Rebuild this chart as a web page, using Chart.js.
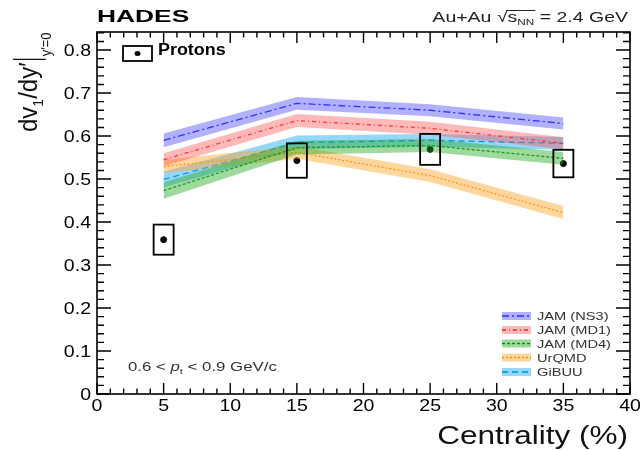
<!DOCTYPE html>
<html>
<head>
<meta charset="utf-8">
<script src="https://cdn.jsdelivr.net/npm/chart.js@4.4.1/dist/chart.umd.min.js"></script>
<style>
html, body { margin: 0; padding: 0; background: #fff; }
#wrap { width: 643px; height: 450px; }
</style>
</head>
<body>
<div id="wrap"><canvas id="chart" width="643" height="450"></canvas></div>
<script>
// data
const centrality = [5, 15, 25, 35]
const protonV = [0.359, 0.543, 0.569, 0.536]
const protonSys = [0.035, 0.040, 0.036, 0.032]

const modelNames = ['JAM (NS3)', 'JAM (MD1)', 'JAM (MD4)', 'UrQMD', 'GiBUU']
const jamNS3 = [0.590, 0.676, 0.660, 0.629]
const jamNS3Err = [0.016, 0.015, 0.014, 0.014]
const jamMD1 = [0.545, 0.636, 0.618, 0.583]
const jamMD1Err = [0.015, 0.015, 0.015, 0.014]
const jamMD4 = [0.473, 0.573, 0.578, 0.548]
const jamMD4Err = [0.019, 0.016, 0.015, 0.015]
const urqmd = [0.529, 0.562, 0.508, 0.422]
const urqmdErr = [0.015, 0.015, 0.015, 0.015]
const gibuu = [0.499, 0.585, 0.590, 0.583]
const gibuuErr = [0.018, 0.016, 0.015, 0.015]

const xTickLabels = ['0', '5', '10', '15', '20', '25', '30', '35', '40']
const yTickLabels = ['0', '0.1', '0.2', '0.3', '0.4', '0.5', '0.6', '0.7', '0.8']

const models = [
  { name: modelNames[0], v: jamNS3, e: jamNS3Err, line: '#2b2bff', band: 'rgba(60,60,255,0.40)', dash: [7, 3, 2, 3] },
  { name: modelNames[1], v: jamMD1, e: jamMD1Err, line: '#ff2020', band: 'rgba(255,80,80,0.40)', dash: [4, 3, 1, 3] },
  { name: modelNames[2], v: jamMD4, e: jamMD4Err, line: '#108a10', band: 'rgba(40,170,40,0.45)', dash: [3, 2] },
  { name: modelNames[3], v: urqmd, e: urqmdErr, line: '#ff8c00', band: 'rgba(255,165,40,0.45)', dash: [2, 2] },
  { name: modelNames[4], v: gibuu, e: gibuuErr, line: '#0090e0', band: 'rgba(0,160,240,0.42)', dash: [6, 4] }
]

const boxHalfX = 0.75
const FONT = '"Liberation Sans", Arial, Helvetica, sans-serif'

const datasets = []
models.forEach(m => {
  datasets.push({
    data: centrality.map((c, i) => ({ x: c, y: m.v[i] - m.e[i] })),
    borderWidth: 0, pointRadius: 0, fill: false
  })
  datasets.push({
    data: centrality.map((c, i) => ({ x: c, y: m.v[i] + m.e[i] })),
    borderWidth: 0, pointRadius: 0, fill: '-1', backgroundColor: m.band
  })
  datasets.push({
    data: centrality.map((c, i) => ({ x: c, y: m.v[i] })),
    borderColor: m.line, borderWidth: 1.3, borderDash: m.dash, pointRadius: 0, fill: false
  })
})
datasets.push({
  type: 'scatter',
  data: centrality.map((c, i) => ({ x: c, y: protonV[i] })),
  pointRadius: 3, pointBackgroundColor: '#000', pointBorderColor: '#000', showLine: false
})

// draw text with a horizontal stretch
function txt(ctx, s, x, y, font, sx, align, color) {
  ctx.save()
  ctx.translate(x, y)
  ctx.scale(sx, 1)
  ctx.font = font
  ctx.fillStyle = color || '#000'
  ctx.textAlign = align || 'left'
  ctx.textBaseline = 'alphabetic'
  ctx.fillText(s, 0, 0)
  ctx.restore()
}

// runs of [text, font, dy]; returns widths
function runWidth(ctx, parts) {
  let w = 0
  parts.forEach(p => { ctx.font = p[1]; w += ctx.measureText(p[0]).width })
  return w
}

const decor = {
  id: 'decor',
  afterDatasetsDraw(chart) {
    const ctx = chart.ctx
    const xs = chart.scales.x, ys = chart.scales.y
    // systematic boxes
    ctx.save()
    ctx.strokeStyle = '#000'
    ctx.lineWidth = 1.8
    centrality.forEach((c, i) => {
      const x0 = xs.getPixelForValue(c - boxHalfX)
      const x1 = xs.getPixelForValue(c + boxHalfX)
      const y0 = ys.getPixelForValue(protonV[i] + protonSys[i])
      const y1 = ys.getPixelForValue(protonV[i] - protonSys[i])
      ctx.strokeRect(x0, y0, x1 - x0, y1 - y0)
    })
    ctx.restore()
  },
  afterDraw(chart) {
    const ctx = chart.ctx
    const a = chart.chartArea
    const xs = chart.scales.x, ys = chart.scales.y
    ctx.save()
    ctx.strokeStyle = '#000'
    ctx.lineWidth = 1.6
    ctx.strokeRect(a.left, a.top, a.right - a.left, a.bottom - a.top)
    ctx.lineWidth = 1.4
    ctx.beginPath()
    for (let v = 0; v <= 40; v += 1) {
      const px = xs.getPixelForValue(v)
      const len = v % 5 === 0 ? 11 : 5.5
      ctx.moveTo(px, a.bottom); ctx.lineTo(px, a.bottom - len)
      ctx.moveTo(px, a.top); ctx.lineTo(px, a.top + len)
    }
    for (let k = 0; k <= 42; k++) {
      const v = k * 0.02
      if (v > ys.max) break
      const py = ys.getPixelForValue(v)
      const len = k % 5 === 0 ? 14 : 7
      ctx.moveTo(a.left, py); ctx.lineTo(a.left + len, py)
      ctx.moveTo(a.right, py); ctx.lineTo(a.right - len, py)
    }
    ctx.stroke()
    ctx.restore()

    // tick labels from the scales
    xs.ticks.forEach(t => {
      txt(ctx, t.label, xs.getPixelForValue(t.value), 411, '16px ' + FONT, 1.22, 'center')
    })
    ys.ticks.forEach(t => {
      txt(ctx, t.label, 91, ys.getPixelForValue(t.value) + 6, '16px ' + FONT, 1.22, 'right')
    })

    // header
    txt(ctx, 'HADES', 97, 22, 'bold 17px ' + FONT, 1.55, 'left')
    const big = '15px ' + FONT, small = '9px ' + FONT
    const parts = [['Au+Au ', big, 0], ['\u221A', big, 0], ['s', big, 0], ['NN', small, 3], [' = 2.4 GeV', big, 0]]
    const sxA = 1.3
    let x = 628 - runWidth(ctx, parts) * sxA
    let sStart = 0, sEnd = 0
    parts.forEach((p, i) => {
      ctx.font = p[1]
      const w = ctx.measureText(p[0]).width * sxA
      if (i === 2) sStart = x
      txt(ctx, p[0], x, 22 + p[2], p[1], sxA, 'left', '#222')
      x += w
      if (i === 3) sEnd = x
    })
    ctx.save()
    ctx.strokeStyle = '#222'; ctx.lineWidth = 1
    ctx.beginPath(); ctx.moveTo(sStart - 1, 10.5); ctx.lineTo(sEnd + 1, 10.5); ctx.stroke()
    ctx.restore()

    // protons legend
    ctx.save()
    ctx.strokeStyle = '#000'; ctx.lineWidth = 1.8
    ctx.strokeRect(123, 46, 29, 15)
    ctx.fillStyle = '#000'
    ctx.beginPath(); ctx.ellipse(137.5, 53.5, 3, 2.5, 0, 0, Math.PI * 2); ctx.fill()
    ctx.restore()
    txt(ctx, 'Protons', 158, 55, 'bold 16px ' + FONT, 1.12, 'left')

    // pt range
    const f12 = '12px ' + FONT
    const pparts = [['0.6 < ', f12, 0], ['p', 'italic 12px ' + FONT, 0], ['t', '8px ' + FONT, 3], [' < 0.9 GeV/c', f12, 0]]
    x = 128
    pparts.forEach(p => {
      ctx.font = p[1]
      const w = ctx.measureText(p[0]).width * 1.4
      txt(ctx, p[0], x, 371 + p[2], p[1], 1.4, 'left', '#333')
      x += w
    })

    // model legend
    const legY = [316, 330, 343.5, 357.5, 372]
    models.forEach((m, i) => {
      ctx.save()
      ctx.fillStyle = m.band
      ctx.fillRect(502, legY[i] - 4, 29, 8)
      ctx.strokeStyle = m.line; ctx.lineWidth = 1.3; ctx.setLineDash(m.dash)
      ctx.beginPath(); ctx.moveTo(502, legY[i]); ctx.lineTo(531, legY[i]); ctx.stroke()
      ctx.restore()
      txt(ctx, m.name, 537, legY[i] + 4, '11px ' + FONT, 1.33, 'left', '#333')
    })

    // axis titles
    txt(ctx, 'Centrality (%)', 628, 444, '25px ' + FONT, 1.26, 'right', '#111')

    ctx.save()
    ctx.translate(37, 132)
    ctx.scale(1.1, 1)
    ctx.rotate(-Math.PI / 2)
    ctx.fillStyle = '#111'
    ctx.textBaseline = 'alphabetic'
    const f24 = '24px ' + FONT, f14 = '14px ' + FONT
    const yparts = [['dv', f24, 0], ['1', f14, 5], ['/dy\u2032', f24, 0]]
    let rx = 0
    yparts.forEach(p => {
      ctx.font = p[1]
      ctx.fillText(p[0], rx, p[2])
      rx += ctx.measureText(p[0]).width
    })
    ctx.strokeStyle = '#111'; ctx.lineWidth = 1.4
    ctx.beginPath(); ctx.moveTo(rx + 3, -22); ctx.lineTo(rx + 3, 8); ctx.stroke()
    ctx.font = '13px ' + FONT
    ctx.fillText('y\u2032=0', rx + 6, 13)
    ctx.restore()
  }
}

new Chart(document.getElementById('chart'), {
  type: 'line',
  data: { datasets: datasets },
  options: {
    responsive: false,
    animation: false,
    devicePixelRatio: 1,
    events: [],
    layout: { padding: { top: 32, right: 13, left: 0, bottom: 0 }, autoPadding: false },
    plugins: { legend: { display: false }, tooltip: { enabled: false } },
    elements: { line: { tension: 0 } },
    scales: {
      x: {
        type: 'linear', min: 0, max: 40,
        grid: { display: false }, border: { display: false },
        ticks: { display: false, stepSize: 5, callback: (val, index) => xTickLabels[index] },
        afterFit: s => { s.height = 56 }
      },
      y: {
        min: 0, max: 0.842,
        grid: { display: false }, border: { display: false },
        ticks: { display: false, stepSize: 0.1, includeBounds: false, callback: (val, index) => yTickLabels[index] },
        afterFit: s => { s.width = 97 }
      }
    }
  },
  plugins: [decor]
})
</script>
</body>
</html>
